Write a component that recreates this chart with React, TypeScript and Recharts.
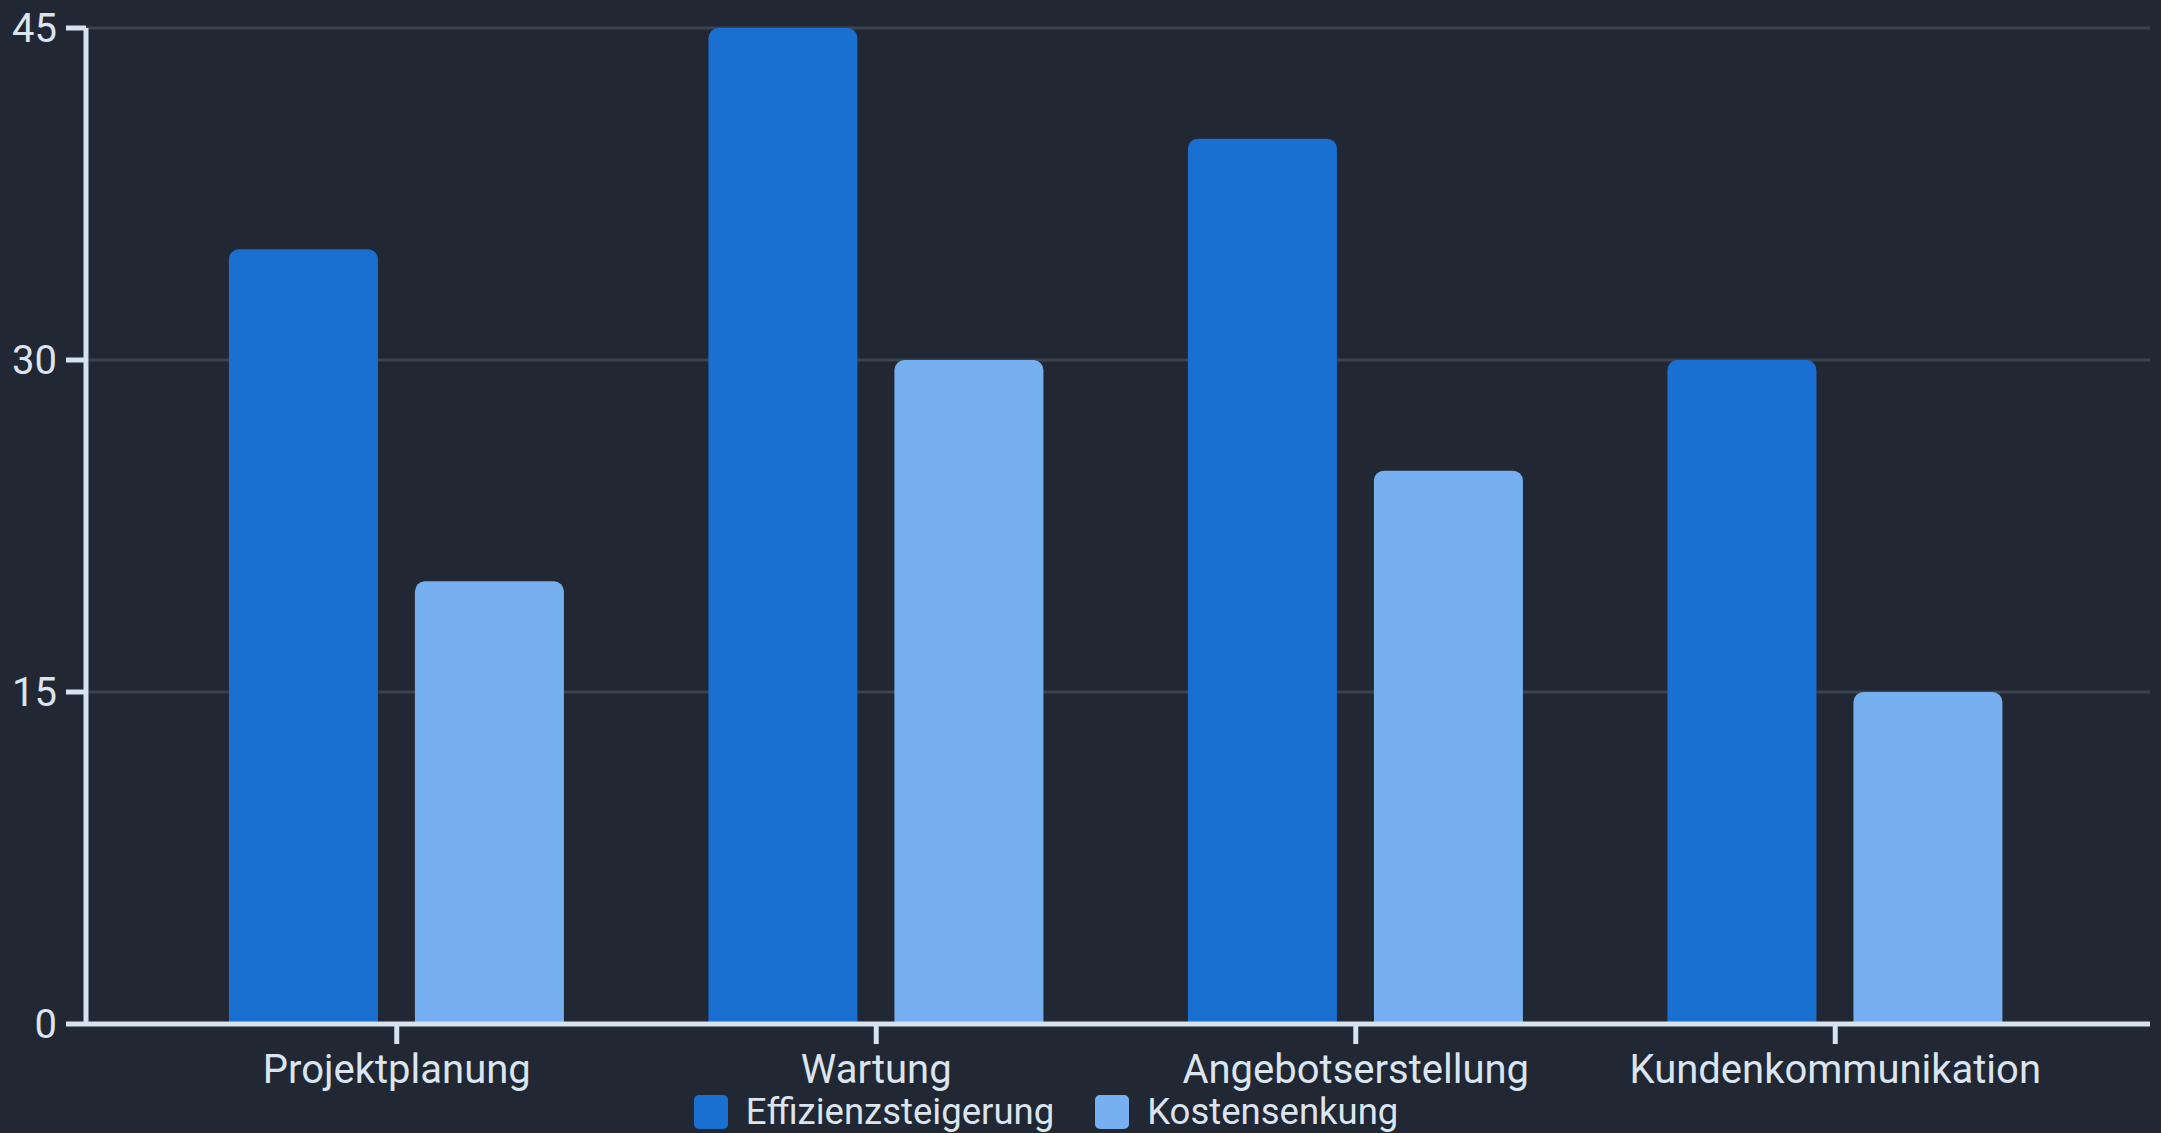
import React from "react";
import { BarChart, Bar, XAxis, YAxis, CartesianGrid, Legend } from "recharts";

const categories = ["Projektplanung", "Wartung", "Angebotserstellung", "Kundenkommunikation"];
const effizienzsteigerung = [35, 45, 40, 30];
const kostensenkung = [20, 30, 25, 15];
const yTicks = [0, 15, 30, 45];

const data = categories.map((name, i) => ({
  name,
  Effizienzsteigerung: effizienzsteigerung[i],
  Kostensenkung: kostensenkung[i],
}));

const BG = "#212733";
const TEXT = "#dbe5ef";
const AXIS = "#d6e2ee";
const DARK = "#1a70d0";
const LIGHT = "#76b0f0";
const FONT = "Roboto, 'Noto Sans', sans-serif";

const LegendContent = (props: any) => {
  const { payload } = props;
  return (
    <div style={{ display: "flex", justifyContent: "center", alignItems: "center", gap: 41, fontFamily: FONT, fontSize: 36.5, color: TEXT, lineHeight: "38px", transform: "translateX(-29px)" }}>
      {(payload || []).map((p: any) => (
        <div key={p.value} style={{ display: "flex", alignItems: "center", gap: 18 }}>
          <div style={{ width: 34, height: 34, borderRadius: 5, background: p.color }} />
          <span>{p.value}</span>
        </div>
      ))}
    </div>
  );
};

export default function App() {
  return (
    <div style={{ position: "absolute", left: 0, top: 0, width: 2161, height: 1133, background: BG, overflow: "hidden" }}>
      <BarChart
        width={2161}
        height={1133}
        data={data}
        margin={{ top: 28, right: 11, left: 0, bottom: 0 }}
        barCategoryGap="15%"
        barGap={37}
      >
        <CartesianGrid vertical={false} stroke="#3c424e" strokeWidth={3} />
        <XAxis
          dataKey="name"
          height={69}
          padding={{ left: 71, right: 75 }}
          stroke={AXIS}
          strokeWidth={5}
          tickSize={20}
          tickMargin={11}
          tick={{ fill: TEXT, fontSize: 40, fontFamily: FONT }}
          tickLine={{ stroke: AXIS, strokeWidth: 5 }}
          interval={0}
        />
        <YAxis
          width={86}
          domain={[0, 45]}
          ticks={yTicks}
          stroke={AXIS}
          strokeWidth={5}
          tickSize={20}
          tickMargin={9}
          tick={{ fill: TEXT, fontSize: 40, fontFamily: FONT }}
          tickLine={{ stroke: AXIS, strokeWidth: 5 }}
          interval={0}
        />
        <Legend verticalAlign="bottom" height={40} content={<LegendContent />} />
        <Bar dataKey="Effizienzsteigerung" fill={DARK} radius={[10, 10, 0, 0]} isAnimationActive={false} />
        <Bar dataKey="Kostensenkung" fill={LIGHT} radius={[10, 10, 0, 0]} isAnimationActive={false} />
      </BarChart>
    </div>
  );
}
